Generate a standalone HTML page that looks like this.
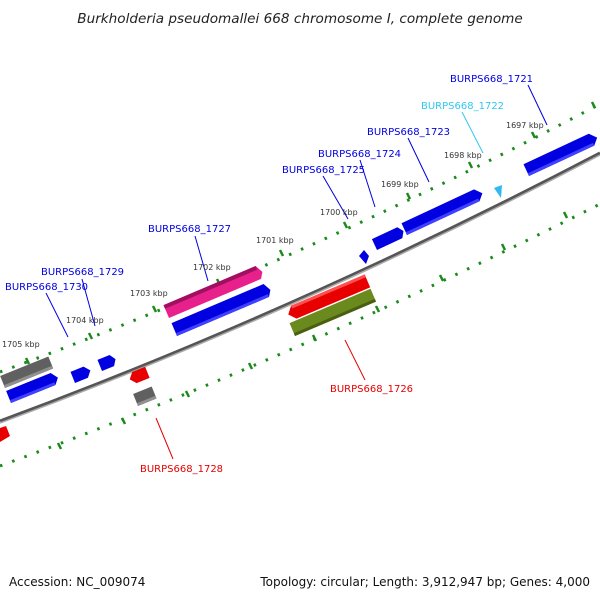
<!DOCTYPE html>
<html><head><style>
body{margin:0;background:#fff;}
svg{display:block;font-family:"DejaVu Sans","Liberation Sans",sans-serif;}
</style></head><body>
<svg width="600" height="600" viewBox="0 0 600 600">
<text x="300" y="23" text-anchor="middle" font-size="13.6" font-style="italic" fill="#222">Burkholderia pseudomallei 668 chromosome I, complete genome</text>
<!-- tick tracks -->
<path d="M0,372 Q300,262 600,104" fill="none" stroke="#1a8a1a" stroke-width="3" stroke-dasharray="2.5 10.5"/>
<path d="M0,466 Q300,356 600,204" fill="none" stroke="#1a8a1a" stroke-width="3" stroke-dasharray="2.5 10.5"/>
<g stroke="#1a8a1a" stroke-width="2.5">
<line x1="26" y1="358" x2="29" y2="364"/>
<line x1="89" y1="333" x2="92" y2="339"/>
<line x1="153" y1="306" x2="156" y2="312"/>
<line x1="217" y1="279" x2="220" y2="285"/>
<line x1="280" y1="250" x2="283" y2="256"/>
<line x1="344" y1="222" x2="347" y2="228"/>
<line x1="407" y1="193" x2="410" y2="199"/>
<line x1="469" y1="162" x2="472" y2="168"/>
<line x1="532" y1="132" x2="535" y2="138"/>
<line x1="592" y1="102" x2="595" y2="108"/>
<line x1="58" y1="443" x2="61" y2="449"/>
<line x1="122" y1="418" x2="125" y2="424"/>
<line x1="186" y1="391" x2="189" y2="397"/>
<line x1="249" y1="363" x2="252" y2="369"/>
<line x1="313" y1="335" x2="316" y2="341"/>
<line x1="376" y1="306" x2="379" y2="312"/>
<line x1="440" y1="275" x2="443" y2="281"/>
<line x1="502" y1="244" x2="505" y2="250"/>
<line x1="564" y1="212" x2="567" y2="218"/>
</g>
<!-- backbone -->
<path d="M0,421 Q300,310 600,153" fill="none" stroke="#555" stroke-width="3"/>
<path d="M0,423 Q300,312 600,155" fill="none" stroke="#aaa" stroke-width="1.5"/>
<!-- genes -->
<g transform="translate(529,176) rotate(-25)"><polygon points="0,0 72,0 78,-6 72,-13 0,-13" fill="#0000e0"/><rect x="0" y="-3" width="72" height="3" fill="#4040ff"/></g>
<polygon points="494,188 502,185 501,198" fill="#30b8f0"/>
<g transform="translate(407,235) rotate(-25)"><polygon points="0,0 80,0 86,-6 80,-13 0,-13" fill="#0000e0"/><rect x="0" y="-3" width="80" height="3" fill="#4040ff"/></g>
<g transform="translate(377,250) rotate(-25)"><polygon points="0,0 28,0 32,-6 28,-12 0,-12" fill="#0000e0"/></g>
<polygon points="359,256 364,250 369,256 366,264" fill="#0000e0"/>
<g transform="translate(169,318) rotate(-23)"><polygon points="0,0 100,0 104,-6 100,-14 0,-14" fill="#e8208c"/><rect x="0" y="-14" width="100" height="4" fill="#a01060"/></g>
<g transform="translate(177,336) rotate(-23)"><polygon points="0,0 100,0 104,-6 100,-14 0,-14" fill="#0000e0"/><rect x="0" y="-3" width="100" height="3" fill="#4040ff"/></g>
<g transform="translate(291,321) rotate(-23)"><polygon points="0,-7 6,0 86,0 86,-14 6,-14" fill="#e80000"/><rect x="6" y="-14" width="80" height="3" fill="#ff5050"/></g>
<g transform="translate(295,336) rotate(-23)"><rect x="0" y="-14" width="88" height="14" fill="#6b8a1e"/><rect x="0" y="-3" width="88" height="3" fill="#4a6010"/></g>
<g transform="translate(5,388) rotate(-22)"><rect x="0" y="-13" width="52" height="13" fill="#606060"/><rect x="0" y="-3" width="52" height="3" fill="#909090"/></g>
<g transform="translate(11,403) rotate(-22)"><polygon points="0,0 48,0 53,-6 48,-13 0,-13" fill="#0000e0"/><rect x="0" y="-3" width="48" height="3" fill="#4040ff"/></g>
<g transform="translate(75,383) rotate(-22)"><polygon points="0,0 14,0 19,-6 14,-12 0,-12" fill="#0000e0"/></g>
<g transform="translate(102,371) rotate(-22)"><polygon points="0,0 13,0 17,-6 13,-12 0,-12" fill="#0000e0"/></g>
<g transform="translate(132,385) rotate(-22)"><polygon points="0,-6 5,0 19,0 19,-12 5,-12" fill="#e80000"/></g>
<g transform="translate(138,406) rotate(-22)"><rect x="0" y="-13" width="20" height="13" fill="#606060"/><rect x="0" y="-3" width="20" height="3" fill="#909090"/></g>
<polygon points="0,428 6,426 10,436 0,442" fill="#e80000"/>
<!-- leader lines -->
<g stroke-width="1">
<line x1="528" y1="85" x2="547" y2="125" stroke="#0000e0"/>
<line x1="462" y1="112" x2="483" y2="153" stroke="#30c8f0"/>
<line x1="408" y1="138" x2="429" y2="182" stroke="#0000e0"/>
<line x1="360" y1="160" x2="375" y2="207" stroke="#0000e0"/>
<line x1="323" y1="176" x2="348" y2="219" stroke="#0000e0"/>
<line x1="195" y1="236" x2="208" y2="281" stroke="#0000e0"/>
<line x1="82" y1="279" x2="95" y2="326" stroke="#0000e0"/>
<line x1="46" y1="293" x2="68" y2="337" stroke="#0000e0"/>
<line x1="345" y1="340" x2="365" y2="380" stroke="#e80000"/>
<line x1="156" y1="418" x2="173" y2="459" stroke="#e80000"/>
</g>
<g font-size="10" fill="#0000e0">
<text x="450" y="82">BURPS668_1721</text>
<text x="421" y="109" fill="#30c8f0">BURPS668_1722</text>
<text x="367" y="135">BURPS668_1723</text>
<text x="318" y="157">BURPS668_1724</text>
<text x="282" y="173">BURPS668_1725</text>
<text x="148" y="232">BURPS668_1727</text>
<text x="41" y="275">BURPS668_1729</text>
<text x="5" y="290">BURPS668_1730</text>
<text x="330" y="392" fill="#e80000">BURPS668_1726</text>
<text x="140" y="472" fill="#e80000">BURPS668_1728</text>
</g>
<g font-size="8" fill="#333">
<text x="506" y="128">1697 kbp</text>
<text x="444" y="158">1698 kbp</text>
<text x="381" y="187">1699 kbp</text>
<text x="320" y="215">1700 kbp</text>
<text x="256" y="243">1701 kbp</text>
<text x="193" y="270">1702 kbp</text>
<text x="130" y="296">1703 kbp</text>
<text x="66" y="323">1704 kbp</text>
<text x="2" y="347">1705 kbp</text>
</g>
<text x="9" y="586" font-size="12" fill="#111">Accession: NC_009074</text>
<text x="590" y="586" font-size="12" fill="#111" text-anchor="end">Topology: circular; Length: 3,912,947 bp; Genes: 4,000</text>
</svg>
</body></html>
